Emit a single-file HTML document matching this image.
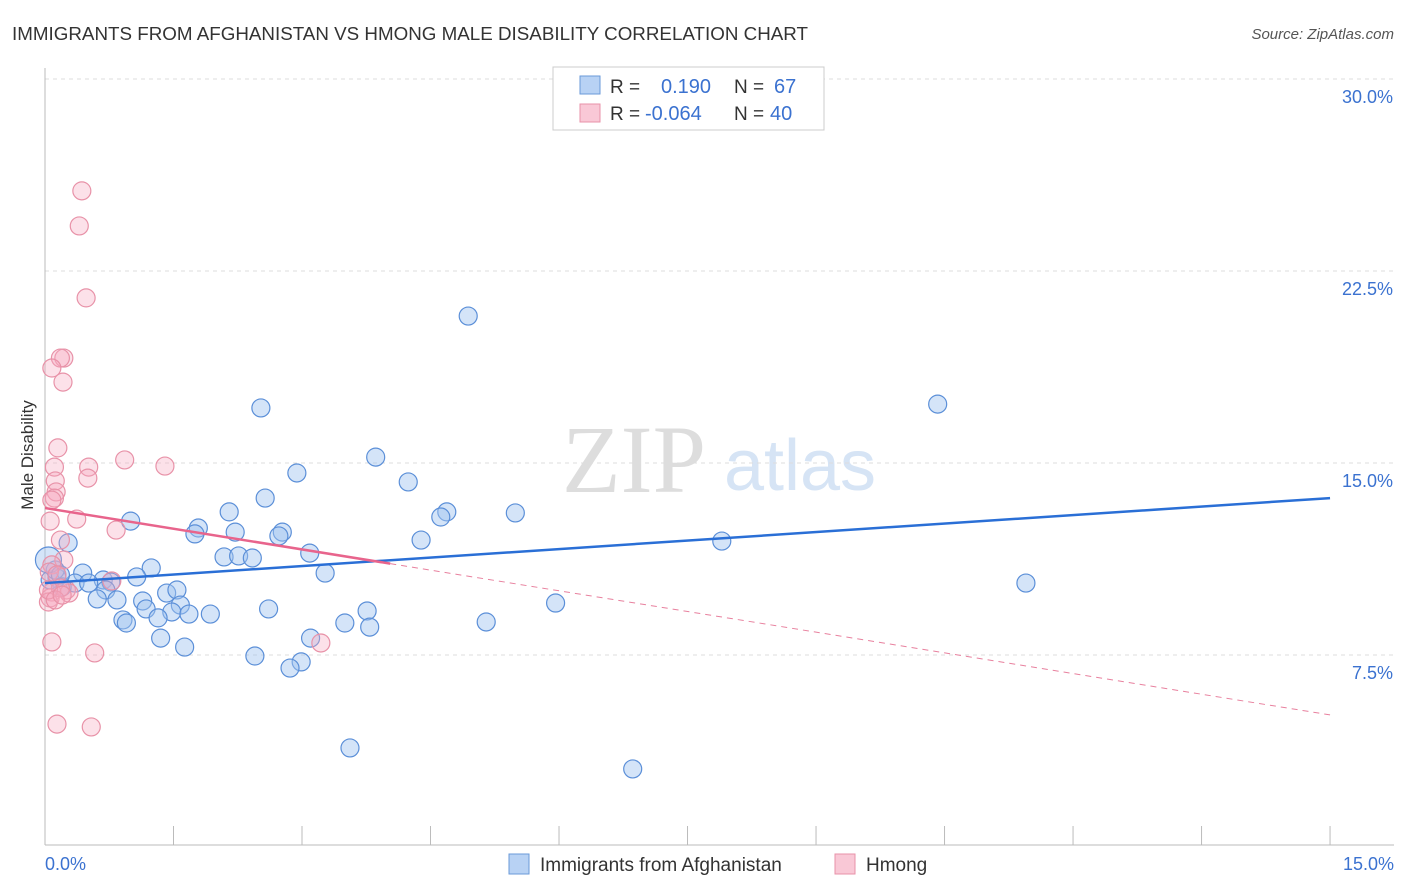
<!DOCTYPE html>
<html><head><meta charset="utf-8"><style>
body{margin:0;background:#fff;font-family:"Liberation Sans",sans-serif;}
svg{display:block}
</style></head><body>
<svg id="c" width="1406" height="892" xmlns="http://www.w3.org/2000/svg">
<text x="12" y="40" font-size="18" fill="#333" textLength="796" lengthAdjust="spacingAndGlyphs">IMMIGRANTS FROM AFGHANISTAN VS HMONG MALE DISABILITY CORRELATION CHART</text>
<text x="1394" y="39" font-size="15" fill="#555" font-style="italic" text-anchor="end">Source: ZipAtlas.com</text>
<text x="634" y="492" font-size="96" fill="#ddd" font-family="Liberation Serif" text-anchor="middle">ZIP</text>
<text x="800" y="490" font-size="72" fill="#d6e4f5" text-anchor="middle">atlas</text>
<text x="33" y="455" font-size="17" fill="#333" text-anchor="middle" transform="rotate(-90 33 455)">Male Disability</text>
<g id="grid"></g><g id="marks"></g>
<g>
<rect x="553" y="67" width="271" height="63" fill="#fff" stroke="#ccc"/>
<rect x="580" y="76" width="20" height="18" fill="#b8d2f4" stroke="#6a9ad8"/>
<rect x="580" y="104" width="20" height="18" fill="#f9c8d6" stroke="#e892a8"/>
<text x="610" y="93" font-size="19" fill="#333">R =</text>
<text x="661" y="93" font-size="20" fill="#3b72d0">0.190</text>
<text x="734" y="93" font-size="19" fill="#333">N =</text>
<text x="774" y="93" font-size="20" fill="#3b72d0">67</text>
<text x="610" y="120" font-size="19" fill="#333">R =</text>
<text x="645" y="120" font-size="20" fill="#3b72d0">-0.064</text>
<text x="734" y="120" font-size="19" fill="#333">N =</text>
<text x="770" y="120" font-size="20" fill="#3b72d0">40</text>
</g>
<g>
<rect x="509" y="854" width="20" height="20" fill="#b8d2f4" stroke="#6a9ad8"/>
<text x="540" y="871" font-size="19" fill="#333">Immigrants from Afghanistan</text>
<rect x="835" y="854" width="20" height="20" fill="#f9c8d6" stroke="#e892a8"/>
<text x="866" y="871" font-size="19" fill="#333">Hmong</text>
</g>
</svg>
<script>
const yTicks=[7.5,15,22.5,30];
const yTickLabels=["7.5%","15.0%","22.5%","30.0%"];
const xTickLabels=["0.0%","15.0%"];
const bluePx=[[468,316],[938,404],[261,408],[376,457],[297,473],[408,482],[265,498],[229,512],[447,512],[441,517],[515,513],[131,521],[198,528],[195,534],[235,532],[282,532],[279,536],[421,540],[722,541],[68,543],[224,557],[239,556],[252,558],[310,553],[151,568],[83,573],[325,573],[57,578],[137,577],[103,580],[75,583],[89,583],[111,582],[62,587],[106,590],[167,593],[177,590],[1026,583],[97,599],[117,600],[143,601],[556,603],[180,605],[146,609],[172,612],[269,609],[189,614],[210,614],[367,611],[123,620],[126,623],[158,618],[345,623],[370,627],[486,622],[161,638],[311,638],[185,647],[255,656],[301,662],[290,668],[350,748],[633,769],[50,580],[55,570],[48,560],[60,575]];
const pinkPx=[[82,191],[79,226],[86,298],[64,358],[60,358],[52,368],[63,382],[58,448],[54,467],[89,467],[125,460],[165,466],[88,478],[55,481],[56,492],[54,498],[52,500],[77,519],[50,521],[116,530],[60,540],[64,560],[52,565],[49,572],[57,575],[112,581],[66,590],[52,592],[50,598],[48,602],[69,593],[60,588],[321,643],[52,642],[95,653],[57,724],[91,727],[48,590],[55,600],[62,595]];
const blueX=bluePx.map(p=>+((p[0]-45)/85.67).toFixed(2));
const blueY=bluePx.map(p=>+(30-(p[1]-79)/25.6).toFixed(2));
const pinkX=pinkPx.map(p=>+((p[0]-45)/85.67).toFixed(2));
const pinkY=pinkPx.map(p=>+(30-(p[1]-79)/25.6).toFixed(2));
const blueTrend=[10.31,13.63];
const pinkTrend=[13.24,5.16];
const pinkSolidEnd=4.03;
const X=v=>45+v*85.67, Y=v=>79+(30-v)*25.6;
const NS="http://www.w3.org/2000/svg";
function mk(t,a,p){const e=document.createElementNS(NS,t);for(const k in a)e.setAttribute(k,a[k]);p.appendChild(e);return e;}
const g=document.getElementById('grid'), m=document.getElementById('marks');
yTicks.forEach((t,i)=>{
 const l=mk('line',{x1:45,x2:1394,y1:Y(t),y2:Y(t),stroke:'#ddd','stroke-dasharray':'4,4'},g);
 
 
 const tx=mk('text',{x:1393,y:Y(t)+24,'font-size':18,fill:'#3b72d0','text-anchor':'end'},g);
 tx.textContent=yTickLabels[i];
 
 
});
const ax=mk('line',{x1:45,x2:45,y1:68,y2:845,stroke:'#bbb'},g);


const bx=mk('line',{x1:45,x2:1394,y1:845,y2:845,stroke:'#bbb'},g);


for(let i=0;i<=10;i++){const t=mk('line',{x1:X(i*1.5),x2:X(i*1.5),y1:826,y2:845,stroke:'#bbb'},g);
 
 }
[[0,'start',45],[15,'end',1394]].forEach((d,i)=>{const t=mk('text',{x:d[2],y:870,'font-size':18,fill:'#3b72d0','text-anchor':d[1]},g);t.textContent=xTickLabels[i];
 
 });
blueX.forEach((x,i)=>{const c=mk('circle',{cx:X(x),cy:Y(blueY[i]),r:i==65?13:9,fill:'rgba(160,196,240,0.45)',stroke:'#5b8fd8','stroke-width':1.2},m);
 
 });
pinkX.forEach((x,i)=>{const c=mk('circle',{cx:X(x),cy:Y(pinkY[i]),r:9,fill:'rgba(245,170,192,0.35)',stroke:'#e892a8','stroke-width':1.2},m);
 
 });
const bl=mk('line',{x1:X(0),y1:Y(blueTrend[0]),x2:X(15),y2:Y(blueTrend[1]),stroke:'#2a6fd6','stroke-width':2.5},m);


const pe=pinkTrend[0]+(pinkTrend[1]-pinkTrend[0])*pinkSolidEnd/15;
const pl=mk('line',{x1:X(0),y1:Y(pinkTrend[0]),x2:X(pinkSolidEnd),y2:Y(pe),stroke:'#e8648c','stroke-width':2.5},m);


const pd=mk('line',{x1:X(pinkSolidEnd),y1:Y(pe),x2:X(15),y2:Y(pinkTrend[1]),stroke:'#e8809e','stroke-width':1,'stroke-dasharray':'6,5'},m);


</script>
</body></html>
